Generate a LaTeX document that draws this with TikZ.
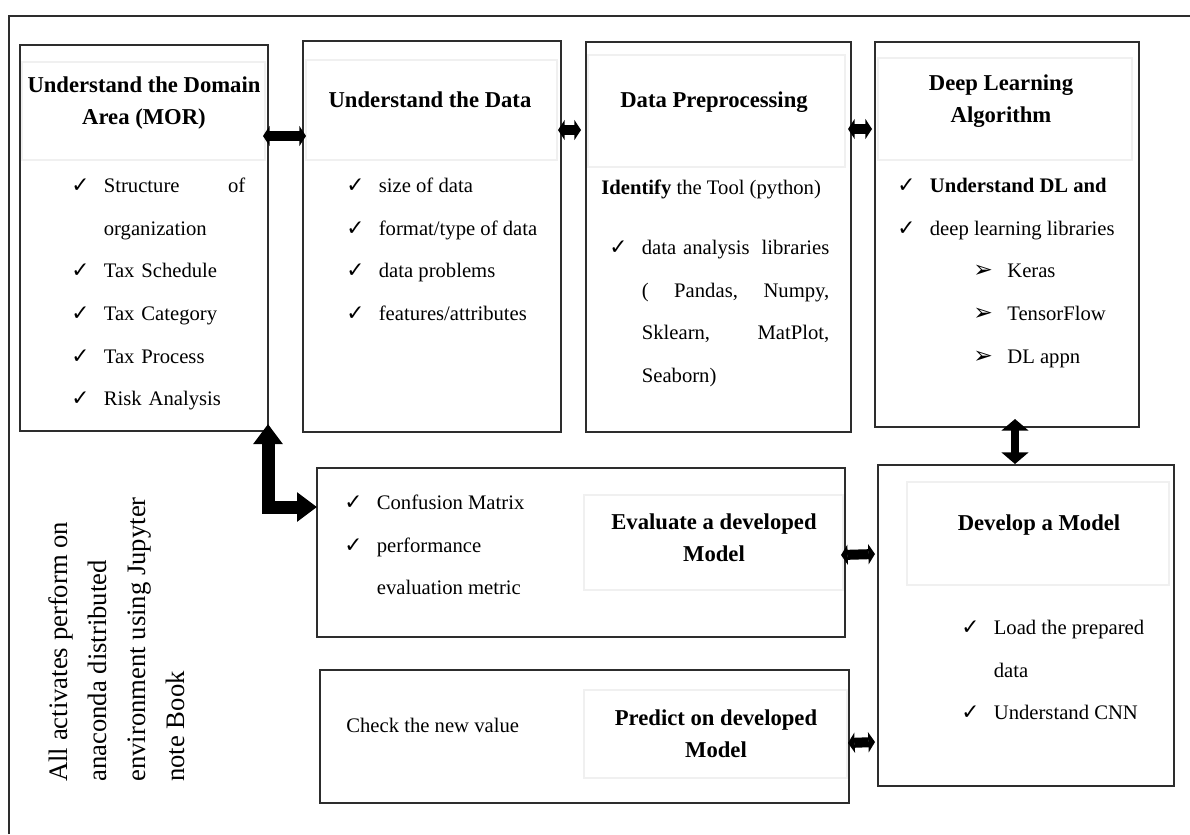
\documentclass[tikz,border=0pt]{standalone}
\usepackage{fontspec}
\setmainfont{Liberation Serif}
\newfontfamily\symfont{DejaVu Sans}
\usetikzlibrary{arrows.meta, fit}
\definecolor{boxline}{RGB}{45,45,45}
\definecolor{faint}{RGB}{240,240,240}

\newcommand{\bodyfont}{\fontsize{12.4pt}{25.6pt}\selectfont}
\newcommand{\headfont}{\fontsize{13.6pt}{19.2pt}\selectfont\bfseries}
\newcommand{\sidefont}{\fontsize{16pt}{23.4pt}\selectfont}
\newcommand{\ck}{\rule{0pt}{9pt}\makebox[19.5pt][l]{{\symfont\fontsize{13pt}{13pt}\selectfont ✓}}}
\newcommand{\pt}{\hspace*{45.6pt}\makebox[20.4pt][l]{{\symfont\fontsize{14pt}{14pt}\selectfont ➢}}}
\newcommand{\ind}{\hspace*{19.5pt}}

\begin{document}
\begin{tikzpicture}[x=0.6pt, y=-0.6pt,
    box/.style={draw=boxline, line width=1.2pt, inner sep=0pt},
    hdr/.style={draw=faint, line width=0.8pt},
    head/.style={align=center, font=\headfont, inner sep=0pt},
    body/.style={anchor=north west, align=left, font=\bodyfont, inner sep=0pt},
    fatarrow/.style={line width=6pt, {Triangle[length=4pt,width=12pt]}-{Triangle[length=4pt,width=12pt]}},
    vertarrow/.style={line width=5pt, {Triangle[length=7pt,width=16pt]}-{Triangle[length=7pt,width=16pt]}},
    elbowarrow/.style={line width=7.8pt, {Triangle[length=12pt,width=17pt]}-{Triangle[length=12pt,width=17pt]}}]
	\useasboundingbox (0,0) rectangle (1190,834);
	% Rahmen
	\draw[boxline, line width=1.2pt] (9,834) -- (9,16) -- (1190,16);
	% Kopfbereiche
	\draw[hdr] (22,62) rectangle (265,160);
	\draw[hdr] (306,60) rectangle (557,160);
	\draw[hdr] (588,55) rectangle (845,167);
	\draw[hdr] (878,58) rectangle (1132,160);
	\draw[hdr] (584,495) rectangle (843,590);
	\draw[hdr] (584,690) rectangle (847,778);
	\draw[hdr] (907,482) rectangle (1169,585);
	% Kaesten
	\node[box, fit={(20,45) (268,431)}] (dom) {};
	\node[box, fit={(303,41) (561,432)}] (data) {};
	\node[box, fit={(586,42) (851,432)}] (prep) {};
	\node[box, fit={(875,42) (1139,427)}] (dl) {};
	\node[box, fit={(317,468) (845,637)}] (eval) {};
	\node[box, fit={(320,670) (849,803)}] (pred) {};
	\node[box, fit={(878,465) (1174,786)}] (dev) {};
	% Titel
	\node[head] (domtitle) at (144,103) {Understand the Domain\\Area (MOR)};
	\node[head] (datatitle) at (430,100) {Understand the Data};
	\node[head] (preptitle) at (714,102) {Data Preprocessing};
	\node[head] (dltitle) at (1001,101) {Deep Learning\\Algorithm};
	\node[head] (evaltitle) at (714,538) {Evaluate a developed\\Model};
	\node[head] (predtitle) at (716,734) {Predict on developed\\Model};
	\node[head] (devtitle) at (1039,525) {Develop a Model};
	% Inhalte
	\node[body, text width=104.4pt] (domlist) at (71,177) {\ck Structure\hfill of\\ \ind organization\\ \ck Tax Schedule\\ \ck Tax Category\\ \ck Tax Process\\ \ck Risk Analysis};
	\node[body] (datalist) at (346,177) {\ck size of data\\ \ck format/type of data\\ \ck data problems\\ \ck features/attributes};
	\node[anchor=base west, font=\bodyfont, inner sep=0pt] (tool) at (601,194) {\textbf{Identify} the Tool (python)};
	\node[body, text width=132pt] (preplist) at (609,239) {\ck data analysis\hfill libraries\\ \ind (\hfill Pandas,\hfill Numpy,\\ \ind Sklearn,\hfill MatPlot,\\ \ind Seaborn)};
	\node[body] (dllist) at (897,177) {\ck\textbf{Understand DL and}\\ \ck deep learning libraries\\ \pt Keras\\ \pt TensorFlow\\ \pt DL appn};
	\node[body] (evallist) at (344,494) {\ck Confusion Matrix\\ \ck performance\\ \ind evaluation metric};
	\node[anchor=base west, font=\bodyfont, inner sep=0pt] (check) at (346,732) {Check the new value};
	\node[body] (devlist) at (961,619) {\ck Load the prepared\\ \ind data\\ \ck Understand CNN};
	% Seitentext
	\node[rotate=90, anchor=north west, align=left, font=\sidefont, inner sep=0pt] (env) at (48,782) {All activates perform on\\anaconda distributed\\environment using Jupyter\\note Book};
	% Pfeile
	\draw[fatarrow] ([shift={(-6,92)}]dom.north east) -- ([shift={(4,96)}]data.north west);
	\draw[fatarrow] ([shift={(-4,90)}]data.north east) -- ([shift={(-4,89)}]prep.north west);
	\draw[fatarrow] ([shift={(-4,88)}]prep.north east) -- ([shift={(-2,88)}]dl.north west);
	\draw[vertarrow] ([shift={(8,-9)}]dl.south) -- ([shift={(-11,0)}]dev.north);
	\draw[fatarrow] ([shift={(-5,2.5)}]eval.east) -- ([shift={(-2,90)}]dev.north west);
	\draw[fatarrow] ([shift={(-2,6.5)}]pred.east) -- ([shift={(-2,278)}]dev.north west);
	\draw[elbowarrow] ([shift={(1,40)}]eval.north west) -| ([shift={(-1,-8)}]dom.south east);
\end{tikzpicture}
\end{document}
